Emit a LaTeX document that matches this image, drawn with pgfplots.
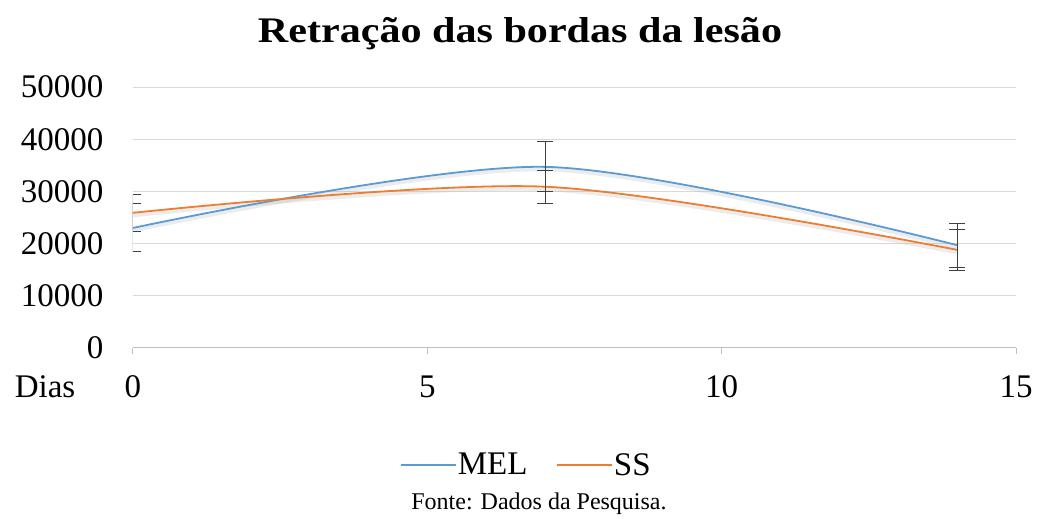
\documentclass[border=0pt]{standalone}
\usepackage{pgfplots}
\pgfplotsset{compat=1.18}
\usepackage{fontspec}
\setmainfont{Liberation Serif}
\definecolor{melblue}{HTML}{5B9BD5}
\definecolor{ssorange}{HTML}{ED7D31}
\definecolor{gridgray}{HTML}{D9D9D9}
\definecolor{axgray}{HTML}{BFBFBF}
\definecolor{errgray}{HTML}{404040}
\begin{document}
\begin{tikzpicture}[x=1pt,y=1pt]
\useasboundingbox (-133,-171) rectangle (904,348);
\begin{axis}[
  at={(0,0)}, anchor=south west,
  scale only axis, width=883pt, height=261pt,
  xmin=0, xmax=15, ymin=0, ymax=50000,
  xtick={0,5,10,15}, ytick={0,10000,20000,30000,40000,50000},
  scaled y ticks=false,
  axis x line*=bottom, axis y line*=left,
  y axis line style={draw=none},
  x axis line style={draw=axgray, line width=1pt, -},
  ytick style={draw=none},
  xtick style={draw=axgray, line width=1pt},
  tick align=outside, major tick length=6pt,
  ymajorgrids, grid style={gridgray, line width=1pt},
  /pgf/number format/.cd, 1000 sep={}, assume math mode=true,
  /pgfplots/.cd,
  tick label style={font=\fontsize{33}{38}\selectfont},
  yticklabel style={xshift=-20pt},
  xticklabel style={yshift=-18pt},
  legend columns=2,
  legend style={at={(0.445,-0.448)}, anchor=center, draw=none, fill=none,
    font=\fontsize{33}{38}\selectfont, column sep=0pt, inner sep=0pt,
    nodes={inner sep=1pt},
    /tikz/every even column/.append style={column sep=28pt}},
  legend image code/.code={\draw[#1, line width=1.5pt] (0pt,0) -- (55pt,0);},
]
% soft shadows
\addplot[forget plot, smooth, gray!60, opacity=0.25, line width=5pt, yshift=-2pt]
  coordinates {(0,23000) (7,34700) (14,19700)};
\addplot[forget plot, smooth, gray!60, opacity=0.25, line width=5pt, yshift=-2pt]
  coordinates {(0,25900) (7,30900) (14,18800)};
\addplot[smooth, melblue, line width=1.8pt, mark=none,
  error bars/.cd, y dir=both, y explicit,
  error bar style={errgray, line width=1pt},
  error mark options={errgray, line width=1pt, mark size=8pt, rotate=90}]
  table[x=x, y=y, y error=e] {
x y e
0 23000 4600
7 34700 4800
14 19700 4200
};
\addlegendentry{MEL}
\addplot[smooth, ssorange, line width=1.8pt, mark=none,
  error bars/.cd, y dir=both, y explicit,
  error bar style={errgray, line width=1pt},
  error mark options={errgray, line width=1pt, mark size=8pt, rotate=90}]
  table[x=x, y=y, y error=e] {
x y e
0 25900 3500
7 30900 3200
14 18800 3900
};
\addlegendentry{SS}
\end{axis}
\node[font=\bfseries\fontsize{36}{42}\selectfont] at (387,314) {\scalebox{1.17}[1]{Retração das bordas da lesão}};
\node[font=\fontsize{33}{38}\selectfont] at (-88,-39) {Dias};
\node[font=\fontsize{24}{28}\selectfont] at (406,-156) {Fonte: Dados da Pesquisa.};
\end{tikzpicture}
\end{document}
